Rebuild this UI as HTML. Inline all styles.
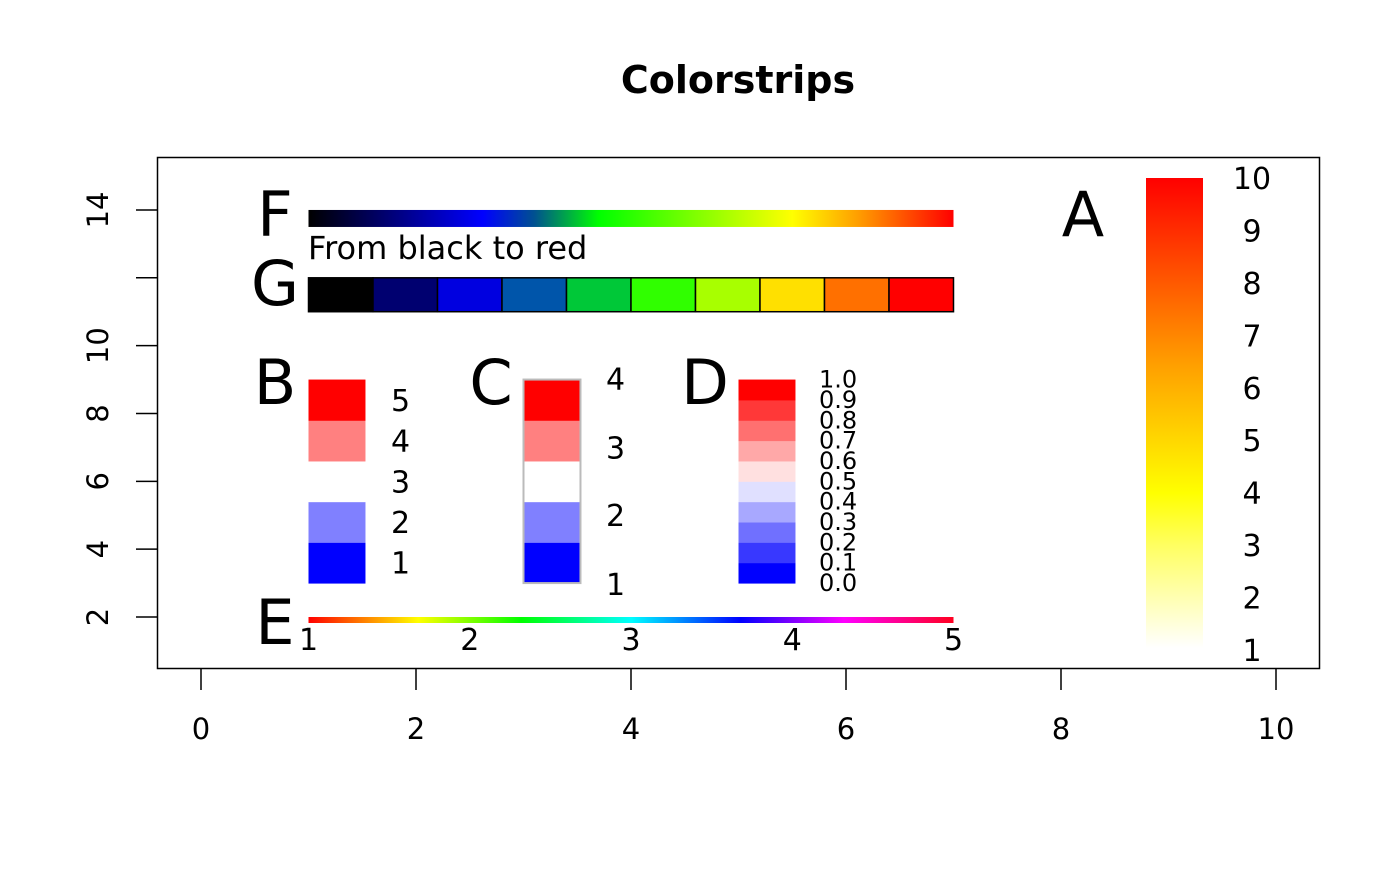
<!DOCTYPE html>
<html><head><meta charset="utf-8"><style>body{margin:0;background:#fff}text{font-family:"DejaVu Sans","Liberation Sans",sans-serif}</style></head>
<body>
<svg id="c" width="1400" height="866" xmlns="http://www.w3.org/2000/svg">
<defs>
<linearGradient id="gF" x1="0" x2="1" y1="0" y2="0">
<stop offset="0" stop-color="#000"/><stop offset="0.12" stop-color="#000070"/><stop offset="0.27" stop-color="#0000ff"/><stop offset="0.35" stop-color="#005090"/><stop offset="0.45" stop-color="#00ff00"/><stop offset="0.75" stop-color="#ffff00"/><stop offset="0.85" stop-color="#ffa000"/><stop offset="1" stop-color="#ff0000"/>
</linearGradient>
<linearGradient id="gE" x1="0" x2="1" y1="0" y2="0">
<stop offset="0" stop-color="#ff0000"/><stop offset="0.17" stop-color="#ffff00"/><stop offset="0.33" stop-color="#00ff00"/><stop offset="0.5" stop-color="#00ffff"/><stop offset="0.67" stop-color="#0000ff"/><stop offset="0.83" stop-color="#ff00ff"/><stop offset="1" stop-color="#ff0020"/>
</linearGradient>
<linearGradient id="gA" x1="0" x2="0" y1="1" y2="0">
<stop offset="0" stop-color="#ffffff"/><stop offset="0.22" stop-color="#ffff60"/><stop offset="0.33" stop-color="#ffff00"/><stop offset="0.6" stop-color="#ffa000"/><stop offset="1" stop-color="#ff0000"/>
</linearGradient>
</defs>
</svg>
<script>
const xTicks=[0,2,4,6,8,10];
const yTicks=[2,4,6,8,10,12,14];
const gColors=["#000000","#000070","#0000e0","#0055aa","#00c838","#30ff00","#a8ff00","#ffe000","#ff7000","#ff0000"];
const bColors=["#0000ff","#8080ff","#ffffff","#ff8080","#ff0000"];
const bLabels=["1","2","3","4","5"];
const cLabels=["1","2","3","4"];
const dColors=["#0000ff","#3838ff","#7070ff","#a8a8ff","#e0e0ff","#ffe0e0","#ffa8a8","#ff7070","#ff3838","#ff0000"];
const dLabels=["0.0","0.1","0.2","0.3","0.4","0.5","0.6","0.7","0.8","0.9","1.0"];
const eLabels=["1","2","3","4","5"];
const aLabels=["1","2","3","4","5","6","7","8","9","10"];
const svg=document.getElementById('c');
const NS="http://www.w3.org/2000/svg";
const X=v=>201+107.5*v, Y=v=>617-(v-2)*33.92;
function el(t,a,txt){const e=document.createElementNS(NS,t);for(const k in a)e.setAttribute(k,a[k]);if(txt!=null)e.textContent=txt;svg.appendChild(e);return e;}
let e;
e=el('text',{x:738,y:93,'text-anchor':'middle','font-size':'38','font-weight':'bold'},'Colorstrips');


e=el('rect',{x:157.5,y:157.5,width:1162,height:511,fill:'none',stroke:'#000','stroke-width':1.5});


xTicks.forEach(v=>{e=el('line',{x1:X(v),x2:X(v),y1:669,y2:690,stroke:'#000','stroke-width':1.5});


e=el('text',{x:X(v),y:739,'text-anchor':'middle','font-size':'29'},String(v));

});
yTicks.forEach(v=>{e=el('line',{x1:136,x2:157,y1:Y(v),y2:Y(v),stroke:'#000','stroke-width':1.5});


if(v!==12){e=el('text',{x:0,y:0,'text-anchor':'middle','font-size':'29',transform:`translate(108,${Y(v)}) rotate(-90)`},String(v));

}});
function big(t,x,y){e=el('text',{x:x,y:y,'text-anchor':'middle','font-size':'62'},t);

}
e=el('rect',{x:X(1),y:Y(14),width:X(7)-X(1),height:17,fill:'url(#gF)'});


big('F',275,236);
e=el('text',{x:308,y:259,'font-size':'32'},'From black to red');


const gw=(X(7)-X(1))/gColors.length;
gColors.forEach((c,i)=>{e=el('rect',{x:X(1)+i*gw,y:Y(12),width:gw,height:Y(11)-Y(12),fill:c,stroke:'#000','stroke-width':1.5});

});
big('G',275,305);
const bh=(Y(3)-Y(9))/bColors.length;
bColors.forEach((c,i)=>{e=el('rect',{x:X(1),y:Y(3)-(i+1)*bh,width:X(1.53)-X(1),height:bh+0.5,fill:c});


e=el('text',{x:391,y:Y(3)-(i+0.5)*bh+11,'font-size':'30'},bLabels[i]);

});
big('B',275,404);
bColors.forEach((c,i)=>{e=el('rect',{x:X(3),y:Y(3)-(i+1)*bh,width:X(3.53)-X(3),height:bh+0.5,fill:c});

});
e=el('rect',{x:X(3),y:Y(9),width:X(3.53)-X(3),height:Y(3)-Y(9),fill:'none',stroke:'#bbb','stroke-width':2});


cLabels.forEach((t,i)=>{e=el('text',{x:606,y:Y(3)-i*(Y(3)-Y(9))/(cLabels.length-1)+(i===0?12:i===cLabels.length-1?10:11),'font-size':'30'},t);

});
big('C',491,404);
const dh=(Y(3)-Y(9))/dColors.length;
dColors.forEach((c,i)=>{e=el('rect',{x:X(5),y:Y(3)-(i+1)*dh,width:X(5.53)-X(5),height:dh+0.5,fill:c});

});
dLabels.forEach((t,i)=>{e=el('text',{x:819,y:Y(3)-i*dh+8,'font-size':'24'},t);

});
big('D',705,404);
e=el('rect',{x:X(1),y:617,width:X(7)-X(1),height:6,fill:'url(#gE)'});


eLabels.forEach((t,i)=>{e=el('text',{x:X(1)+i*(X(7)-X(1))/(eLabels.length-1),y:650,'text-anchor':'middle','font-size':'30'},t);

});
big('E',275,644);
e=el('rect',{x:1146,y:178,width:57,height:470,fill:'url(#gA)'});


aLabels.forEach((t,i)=>{e=el('text',{x:1252,y:661-i*(661-189)/(aLabels.length-1),'text-anchor':'middle','font-size':'30'},t);

});
big('A',1083,236);
</script>
</body></html>
